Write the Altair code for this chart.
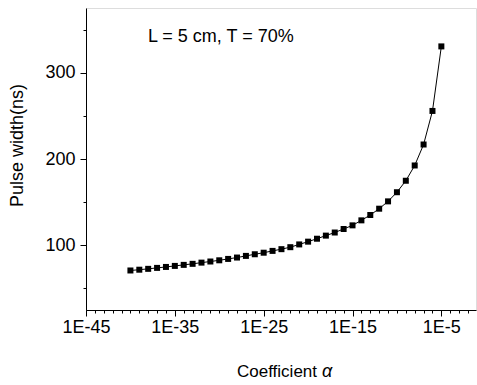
import altair as alt
import pandas as pd

# Coefficient alpha (one point per decade) and measured pulse width (ns)
alpha = [1e-40, 1e-39, 1e-38, 1e-37, 1e-36, 1e-35, 1e-34, 1e-33, 1e-32, 1e-31,
         1e-30, 1e-29, 1e-28, 1e-27, 1e-26, 1e-25, 1e-24, 1e-23, 1e-22, 1e-21,
         1e-20, 1e-19, 1e-18, 1e-17, 1e-16, 1e-15, 1e-14, 1e-13, 1e-12, 1e-11,
         1e-10, 1e-9, 1e-8, 1e-7, 1e-6, 1e-5]
pulse_width = [70.8, 71.7, 72.7, 73.8, 74.9, 76.1, 77.3, 78.5, 79.9, 81.2,
               82.6, 84.2, 85.8, 87.7, 89.6, 91.4, 93.5, 95.5, 97.8, 101.0,
               104.2, 107.6, 111.2, 114.8, 118.9, 123.1, 128.9, 135.1, 142.4, 150.9,
               161.5, 174.8, 192.5, 216.8, 255.7, 330.5]

x_major = [1e-45, 1e-35, 1e-25, 1e-15, 1e-5]
x_minor = [10.0 ** e for e in range(-45, -1)]
y_major = [100, 200, 300]
y_minor = [50, 150, 250, 350]

annotation = ["L = 5 cm, T = 70%"]

df = pd.DataFrame({"alpha": alpha, "width": pulse_width})

FONT = "Liberation Sans"
xscale = alt.Scale(type="log", domain=[1e-45, 10 ** -1.1], nice=False)
yscale = alt.Scale(domain=[25, 375], zero=False, nice=False)

main_x = alt.Axis(values=x_major, labelExpr="'1E' + round(log(datum.value)/LN10)",
                  orient="bottom", grid=False, tickSize=6, labelPadding=2,
                  labelFontSize=18, labelFont=FONT, labelColor="black",
                  domainColor="black", tickColor="black", title=None,
                  labelFlush=False, labelOverlap=False)
minor_x = alt.Axis(values=x_minor, orient="bottom", grid=False, tickSize=3,
                   labels=False, domain=False, tickColor="black", title=None)
main_y = alt.Axis(values=y_major, orient="left", grid=False, tickSize=6, labelPadding=5,
                  labelFontSize=18, labelFont=FONT, labelColor="black",
                  domainColor="black", tickColor="black",
                  title="Pulse width(ns)", titleFont=FONT, titleFontSize=18,
                  titleFontWeight="normal", titleColor="black", titlePadding=18,
                  titleY=137)
minor_y = alt.Axis(values=y_minor, orient="left", grid=False, tickSize=3,
                   labels=False, domain=False, tickColor="black", title=None)

base = alt.Chart(df)
line = base.mark_line(color="black", strokeWidth=1).encode(
    x=alt.X("alpha:Q", scale=xscale, axis=main_x),
    y=alt.Y("width:Q", scale=yscale, axis=main_y),
)
points = base.mark_square(size=36, color="black", opacity=1).encode(
    x=alt.X("alpha:Q", scale=xscale, axis=minor_x),
    y=alt.Y("width:Q", scale=yscale, axis=minor_y),
)

ann = alt.Chart(pd.DataFrame({"t": annotation})).mark_text(
    font=FONT, fontSize=18, align="left", baseline="alphabetic", color="black"
).encode(text="t:N", x=alt.value(62), y=alt.value(34))

xt1 = alt.Chart(pd.DataFrame({"t": ["Coefficient"]})).mark_text(
    font=FONT, fontSize=17, align="left", baseline="alphabetic", color="black"
).encode(text="t:N", x=alt.value(151), y=alt.value(369))
xt2 = alt.Chart(pd.DataFrame({"t": ["α"]})).mark_text(
    font=FONT, fontSize=18, align="left", baseline="alphabetic", color="black",
    fontStyle="italic"
).encode(text="t:N", x=alt.value(236), y=alt.value(369))

chart = alt.layer(line, points, ann, xt1, xt2).resolve_axis(
    x="independent", y="independent"
).properties(
    width=390, height=302,
    autosize=alt.AutoSizeParams(type="none"),
    padding={"left": 86, "top": 8, "right": 1, "bottom": 75},
).configure_view(stroke=None).configure(background="white")

chart.save("out.html", embed_options={"renderer": "svg", "actions": False})
